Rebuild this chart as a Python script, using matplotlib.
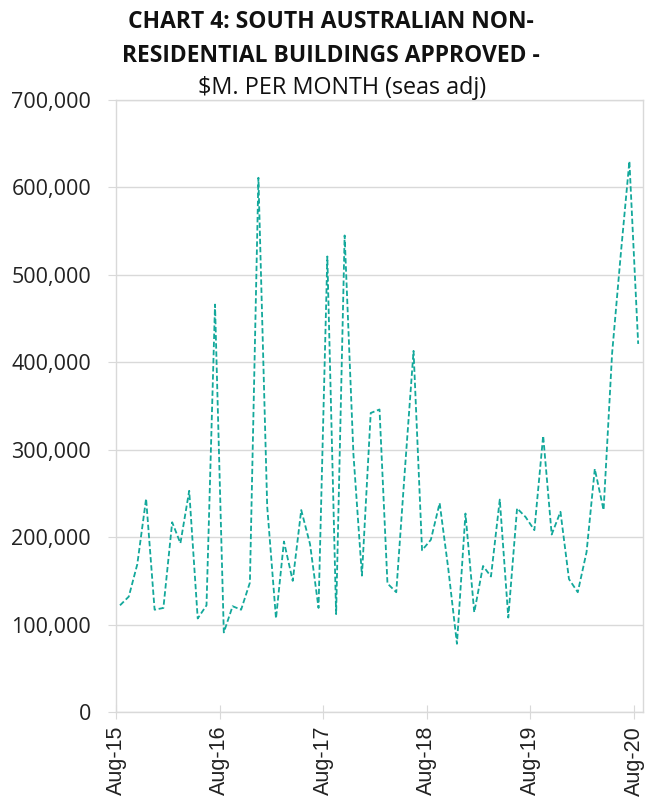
import matplotlib
matplotlib.use("Agg")
import matplotlib.pyplot as plt
import matplotlib.dates as mdates
import matplotlib.ticker as mticker
import numpy as np
import pandas as pd

# 월별 승인액 (seas adj), Aug-15 ~ Aug-20
values = [
    122000, 132000, 169000, 244000, 117000, 119000, 217000, 193000, 253000, 107000,
    122000, 466000, 91000, 121000, 117000, 148000, 611000, 235000, 107000, 195000,
    150000, 231000, 192000, 119000, 521000, 112000, 545000, 295000, 156000, 342000,
    346000, 147000, 137000, 275000, 413000, 185000, 197000, 239000, 165000, 78000,
    227000, 114000, 167000, 155000, 243000, 108000, 233000, 223000, 208000, 316000,
    203000, 229000, 152000, 137000, 183000, 278000, 231000, 410000, 525000, 630000,
    421000,
]
months = pd.date_range("2015-08-01", periods=len(values), freq="MS") + pd.Timedelta(days=14)
tick_dates = pd.to_datetime(["2015-08-01", "2016-08-01", "2017-08-01",
                             "2018-08-01", "2019-08-01", "2020-08-01"])
y_ticks = np.arange(0, 700001, 100000)

line_color = "#13A89B"
grid_color = "#D9D9D9"

fig = plt.figure(figsize=(6.57, 8.01), dpi=100)
ax = fig.add_axes([0.1766, 0.1111, 0.8021, 0.7641])

ax.plot(months, values, color=line_color, linewidth=1.3, linestyle=(0, (3, 1.5)))

ax.set_xlim(pd.Timestamp("2015-08-01"), pd.Timestamp("2020-09-01"))
ax.set_ylim(0, 700000)
ax.set_yticks(y_ticks)
ax.yaxis.set_major_formatter(mticker.FuncFormatter(lambda v, p: f"{int(v):,}"))
ax.set_xticks(tick_dates)
ax.xaxis.set_major_formatter(mdates.DateFormatter("%b-%y"))

ax.grid(axis="y", color=grid_color, linewidth=1)
ax.set_axisbelow(True)
for s in ax.spines.values():
    s.set_color(grid_color)
    s.set_linewidth(1)

ax.tick_params(axis="y", length=6, color=grid_color, labelsize=15.5, pad=12)
ax.tick_params(axis="x", direction="inout", length=10, color=grid_color,
               labelsize=15.5, labelrotation=90, pad=5)
for lab in ax.get_yticklabels():
    lab.set_family("Open Sans")
    lab.set_color("#222222")
for lab in ax.get_xticklabels():
    lab.set_family("Liberation Sans")
    lab.set_color("#222222")

# 제목
fig.text(0.503, 0.972, "CHART 4: SOUTH AUSTRALIAN NON-", ha="center", va="center",
         fontsize=16.5, fontweight="bold", family="Open Sans", color="#111111")
fig.text(0.503, 0.930, "RESIDENTIAL BUILDINGS APPROVED -", ha="center", va="center",
         fontsize=16.5, fontweight="bold", family="Open Sans", color="#111111")
fig.text(0.52, 0.890, "$M. PER MONTH (seas adj)", ha="center", va="center",
         fontsize=16.8, family="Open Sans", color="#111111")

fig.savefig("out.png", dpi=100)
